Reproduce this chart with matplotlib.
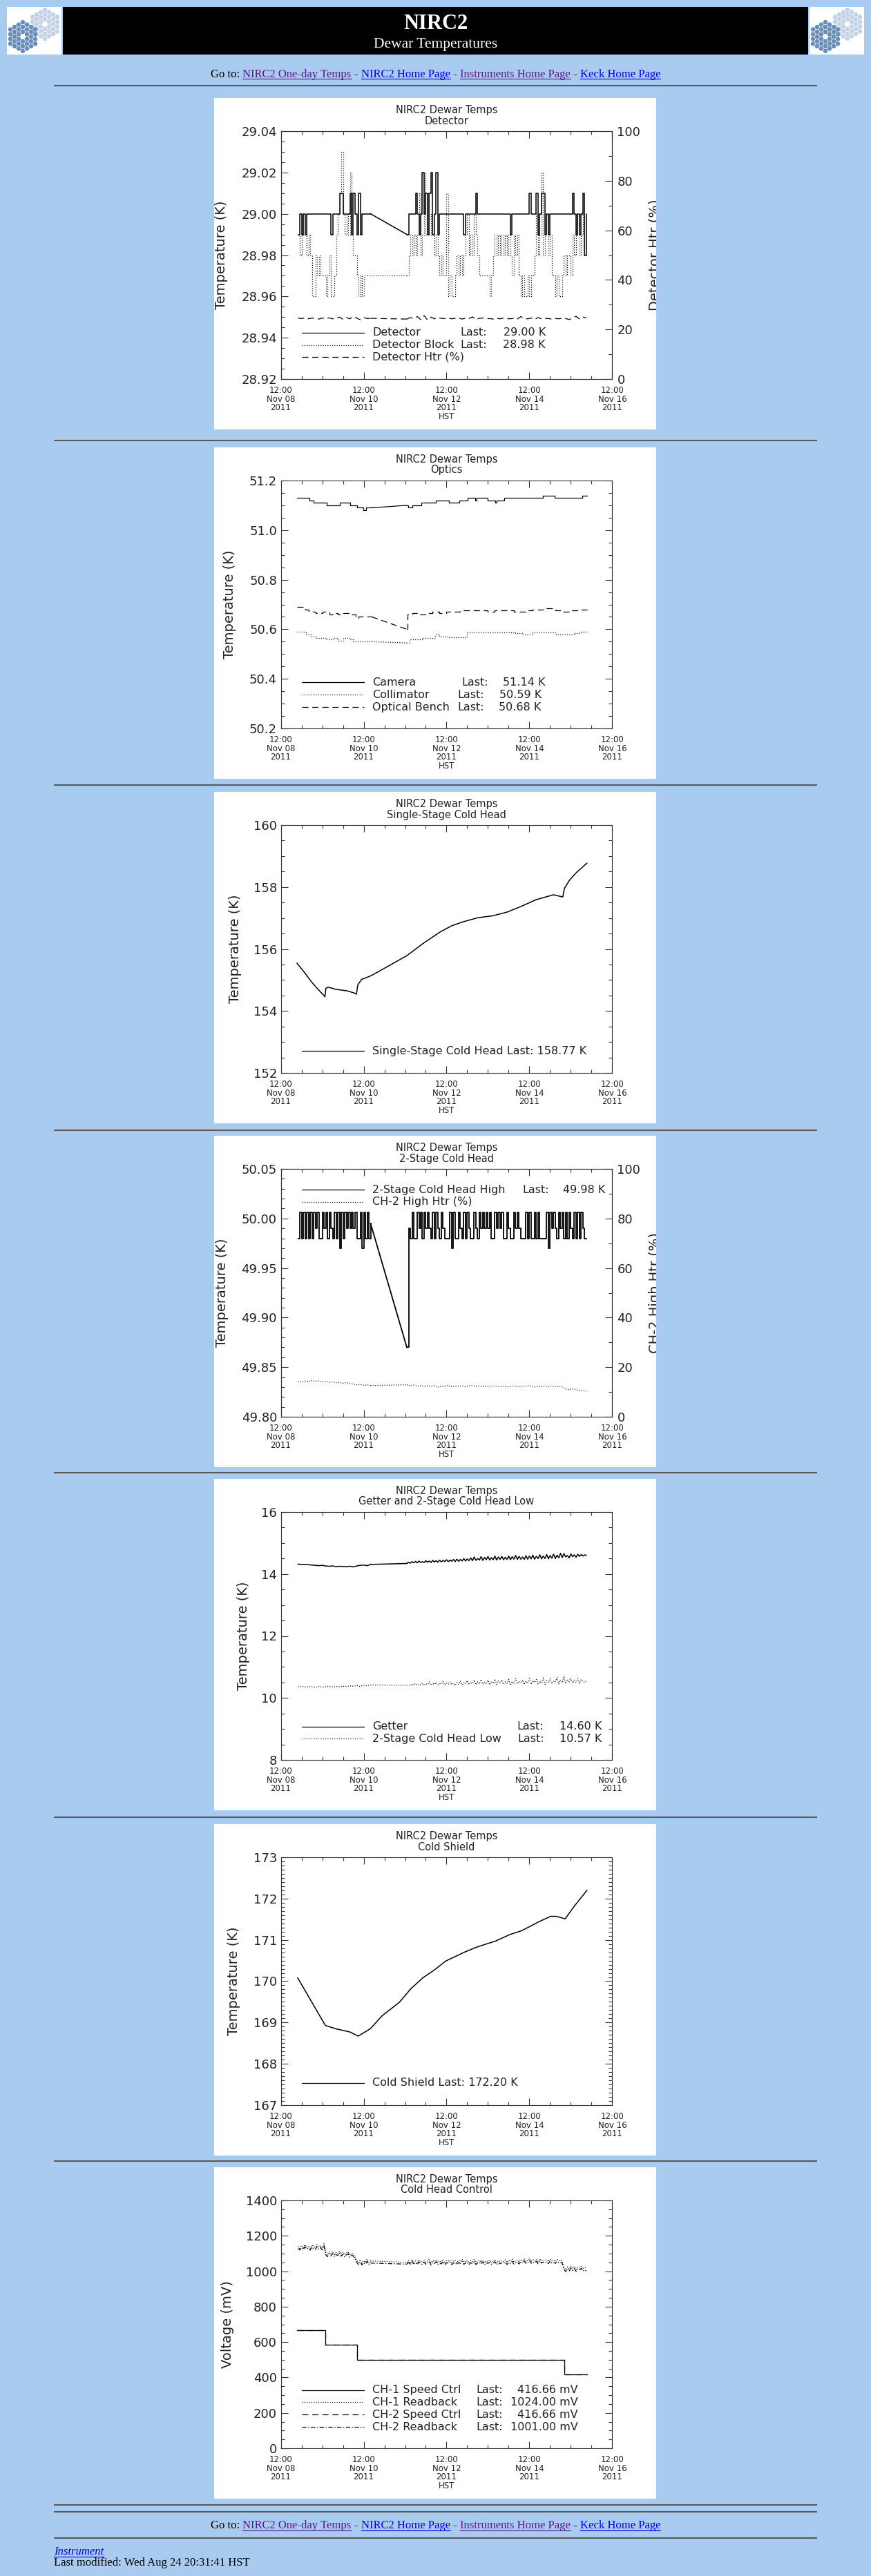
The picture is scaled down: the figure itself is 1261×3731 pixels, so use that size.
import numpy as np
import matplotlib
matplotlib.use("Agg")
import matplotlib.pyplot as plt
from matplotlib.patches import Rectangle, RegularPolygon
from matplotlib.ticker import MultipleLocator, FormatStrFormatter
from matplotlib.transforms import Bbox, TransformedBbox

plt.rcParams['font.family'] = ['DejaVu Sans']
plt.rcParams['lines.scale_dashes'] = False

# ------------------------------------------------------------------
# data  (time axis = hours after 12:00 HST, Nov 08 2011)
# ------------------------------------------------------------------
tick_hours = [0, 48, 96, 144, 192]
tick_labels = ["12:00\nNov 08\n2011", "12:00\nNov 10\n2011", "12:00\nNov 12\n2011",
               "12:00\nNov 14\n2011", "12:00\nNov 16\n2011"]

# logging has a hole between ~h52 and ~h73; hourly samples before / after it
pre_start, post_start = 10, 73

# Detector, hundredths of K above 29.00, hourly
det_pre = [-1, 0, -1, 0, -1, 0, 0, 0, 0, 0,
           0, 0, 0, 0, 0, 0, 0, 0, 0, -1,
           0, 0, 0, 0, 1, 1, 0, 0, 0, 0,
           1, -1, 1, 0, -1, 1, -1, 0, 0, 0,
           0, 0, 0]
det_post = [-1, 0, 0, 0, 0, 1, 0, -1, 0, 2,
            0, 1, -1, 1, 2, -1, 0, 2, -1, 0,
            0, 0, 0, 0, 0, 0, 0, 0, 0, 0,
            0, 0, 0, -1, 0, 0, 0, 0, 0, 0,
            1, 0, 0, 0, 0, 0, 0, 0, 0, 0,
            0, 0, 0, 0, 0, 0, 0, 0, 0, 0,
            -1, 0, 0, 0, 0, 0, 0, 0, 0, 0,
            0, 1, 0, 0, 0, 1, -1, 0, 1, 1,
            -1, 0, -1, 0, 0, 0, 0, 0, 0, 0,
            0, 0, 0, 0, 0, 0, 1, 0, -1, 0,
            -1, 0, 1, -2, 0]
# Detector Block, hundredths of K above 29.00, hourly
blk_pre = [-1, -2, 0, -1, -1, -2, -1, -2, -4, -4,
           -2, -3, -2, -3, -3, -3, -4, -3, -2, -4,
           -4, -3, -1, 0, 1, 3, 0, -1, 0, -1,
           2, -1, -2, -2, -3, -4, -3, -4, -3, -3,
           -3, -3, -3]
blk_post = [-3, -2, -1, -2, -1, -2, -1, 1, -2, -1,
            2, -1, 1, -1, 0, -1, -2, -1, -2, -3,
            -2, -3, -3, 1, -4, -3, -4, -4, -3, -2,
            -3, -2, -3, -2, -1, 0, -2, -1, -2, 0,
            -1, -2, -3, -3, -3, -3, -3, -3, -4, -3,
            -2, -1, -2, -1, -2, -1, -2, -1, -2, -1,
            -2, -3, -1, -2, -1, -3, -4, -3, -4, -4,
            -3, -4, -3, -3, -2, 0, -2, -1, 2, -2,
            -1, 0, -2, -1, -3, -3, -4, -3, -4, -4,
            -3, -2, -3, -2, -2, -3, -1, -2, 0, -1,
            -2, -1, 0, -2, -2]
# Detector heater (%), every 2 h
htr_pre = [24.6, 24.4, 24.7, 24.3, 24.6, 24.5, 24.2, 24.6, 24.4, 24.7,
           24.3, 24.5, 25.0, 24.1, 24.8, 24.3, 25.3, 24.6, 23.9, 24.8,
           24.4, 24.5]
htr_post = [24.2, 24.8, 24.4, 25.2, 24.0, 25.6, 23.8, 25.0, 24.3, 24.7,
            24.5, 24.4, 24.6, 24.3, 24.5, 24.7, 24.2, 24.6, 24.4, 25.1,
            24.0, 24.5, 24.6, 24.3, 24.4, 24.2, 24.5, 24.3, 24.6, 24.4,
            24.3, 24.5, 24.2, 25.2, 24.4, 24.3, 24.6, 24.1, 24.8, 24.3,
            24.5, 24.4, 24.2, 24.5, 24.3, 24.6, 24.4, 24.0, 24.7, 25.3,
            24.2, 25.0, 24.6]

# Optics (step changes)
cam_t_pre = [9.5, 16.5, 19.1, 26.6, 34.2, 40.1, 44.3, 47.7, 49.4, 52.7]
cam_v_pre = [51.13, 51.12, 51.11, 51.10, 51.11, 51.10, 51.09, 51.08, 51.09, 51.09]
cam_t_post = [72.9, 73.8, 76.3, 81.3, 89.8, 97.3, 103.2, 108.3, 112.5, 113.3,
              120.0, 124.3, 125.0, 129.3, 152.0, 158.8, 174.8, 177.3]
cam_v_post = [51.10, 51.09, 51.10, 51.11, 51.12, 51.11, 51.12, 51.13, 51.12, 51.13,
              51.12, 51.11, 51.12, 51.13, 51.14, 51.13, 51.14, 51.14]
col_t_pre = [9.5, 14.5, 17.5, 20.5, 26.0, 30.0, 33.0, 36.0, 40.0, 42.0, 52.7]
col_v_pre = [50.59, 50.58, 50.57, 50.565, 50.56, 50.565, 50.555, 50.565, 50.56, 50.55, 50.55]
col_t_post = [72.9, 74.5, 82.0, 89.5, 92.0, 97.0, 108.0, 136.0, 140.0, 146.0,
              159.6, 170.0, 174.0, 177.3]
col_v_post = [50.545, 50.56, 50.565, 50.58, 50.57, 50.568, 50.587, 50.585, 50.58, 50.587,
              50.58, 50.585, 50.59, 50.59]
ob_t_pre = [9.5, 14.0, 16.0, 20.0, 24.0, 28.0, 31.0, 33.0, 36.0, 40.0, 43.5, 45.0, 52.7]
ob_v_pre = [50.69, 50.68, 50.67, 50.665, 50.67, 50.66, 50.665, 50.66, 50.665, 50.66,
            50.645, 50.65, 50.65]
ob_t_post = [72.9, 73.5, 76.0, 80.0, 84.0, 88.0, 92.0, 96.0, 104.0, 120.0,
             124.0, 135.0, 142.0, 146.0, 154.0, 159.0, 163.0, 168.0, 172.0, 177.3]
ob_v_post = [50.60, 50.66, 50.665, 50.66, 50.665, 50.67, 50.665, 50.67, 50.675, 50.67,
             50.675, 50.67, 50.675, 50.68, 50.685, 50.675, 50.67, 50.675, 50.68, 50.68]

# Single-stage cold head
ss_t = [9.4, 13.2, 18.2, 22.4, 25.0, 25.6, 26.1, 27.5, 31.7, 38.4, 42.6, 43.8, 44.6,
        46.8, 50.2, 52.7, 72.9, 82.2, 92.3, 99.0, 105.7, 114.2, 122.6, 131.0, 139.4,
        147.8, 157.9, 163.3, 164.3, 167.2, 171.4, 177.3]
ss_v = [155.54, 155.28, 154.91, 154.65, 154.50, 154.46, 154.73, 154.77, 154.70, 154.65,
        154.58, 154.54, 154.84, 155.02, 155.09, 155.15, 155.78, 156.17, 156.55, 156.75,
        156.88, 157.01, 157.07, 157.19, 157.38, 157.59, 157.75, 157.68, 157.96, 158.22,
        158.48, 158.77]

# 2-stage cold head high, mK relative to 50.000 K, hourly
ch2h_pre = [-20, 6, -20, 6, -20, 6, -20, 6, -20, 6,
            -10, 6, -20, -20, 6, -10, 6, -20, 6, -10,
            -20, 6, -20, 6, -30, 6, -20, 6, -10, 6,
            -10, 6, -10, 6, -20, -20, 6, -30, 6, -20,
            6, -20, -5]
ch2h_post = [-130, -10, -20, 6, -20, -20, 6, -10, 6, -20,
             6, -10, 6, -10, -20, 6, -20, 6, -10, -20,
             6, -10, -20, -20, -20, 6, -30, 6, -20, -20,
             6, -10, -20, 6, -20, 6, -10, -20, -20, 6,
             -10, -20, 6, -10, 6, -10, 6, -10, 6, -20,
             -20, 6, -10, 6, -10, 6, -20, -20, 6, -10,
             -20, -20, 6, -10, 6, -10, -20, -20, -20, 6,
             -20, 6, -20, -20, 6, -20, 6, -20, -20, -20,
             -20, 6, -30, 6, -10, 6, -10, -20, 6, -10,
             6, -20, 6, -20, 6, -10, -20, 6, -20, 6,
             -20, 6, -10, -20, -20]
# CH-2 high heater (%), every 2 h
ch2htr_pre = [14.2, 14.0, 14.4, 14.1, 14.6, 14.3, 14.5, 14.0, 14.3, 13.9,
              14.1, 13.7, 13.9, 13.5, 13.8, 13.4, 13.2, 12.9, 13.1, 12.7,
              12.9, 12.6]
ch2htr_post = [12.9, 12.5, 12.8, 12.3, 12.6, 12.2, 12.5, 12.3, 12.6, 12.0,
               12.4, 12.2, 12.7, 12.1, 12.4, 12.3, 12.5, 12.2, 12.4, 12.6,
               12.3, 12.5, 12.2, 12.4, 12.1, 12.5, 12.3, 12.2, 12.4, 12.0,
               12.3, 12.5, 12.1, 12.4, 12.2, 12.6, 12.3, 12.0, 12.4, 12.2,
               12.5, 12.1, 12.4, 12.2, 12.3, 12.1, 11.2, 10.9, 11.3, 11.0,
               10.6, 10.5, 10.3]

# Getter and 2-stage low
get_pre = [14.32, 14.31, 14.31, 14.30, 14.29, 14.28, 14.27, 14.28, 14.26, 14.25,
           14.26, 14.24, 14.25, 14.24, 14.24, 14.25, 14.23, 14.26, 14.28, 14.29,
           14.27, 14.31]
get_post = [14.34, 14.38, 14.35, 14.40, 14.36, 14.41, 14.36, 14.42, 14.37, 14.40,
            14.37, 14.43, 14.38, 14.42, 14.37, 14.44, 14.39, 14.43, 14.38, 14.45,
            14.39, 14.44, 14.40, 14.46, 14.40, 14.45, 14.41, 14.47, 14.40, 14.48,
            14.41, 14.47, 14.42, 14.50, 14.42, 14.49, 14.43, 14.52, 14.43, 14.55,
            14.44, 14.50, 14.45, 14.56, 14.44, 14.54, 14.46, 14.57, 14.45, 14.53,
            14.46, 14.58, 14.45, 14.55, 14.47, 14.57, 14.46, 14.54, 14.47, 14.58,
            14.46, 14.56, 14.48, 14.60, 14.47, 14.57, 14.48, 14.55, 14.47, 14.59,
            14.48, 14.58, 14.49, 14.61, 14.48, 14.57, 14.50, 14.62, 14.49, 14.58,
            14.50, 14.63, 14.49, 14.60, 14.51, 14.64, 14.50, 14.61, 14.52, 14.67,
            14.53, 14.66, 14.55, 14.60, 14.52, 14.65, 14.56, 14.62, 14.54, 14.64,
            14.57, 14.63, 14.58, 14.62, 14.60]
low_pre = [10.36, 10.38, 10.35, 10.37, 10.36, 10.34, 10.37, 10.35, 10.36, 10.38,
           10.35, 10.37, 10.36, 10.38, 10.37, 10.39, 10.38, 10.40, 10.37, 10.41,
           10.39, 10.42]
low_post = [10.41, 10.43, 10.40, 10.45, 10.42, 10.47, 10.41, 10.44, 10.42, 10.48,
            10.40, 10.46, 10.43, 10.52, 10.41, 10.47, 10.44, 10.50, 10.42, 10.46,
            10.45, 10.53, 10.41, 10.48, 10.44, 10.51, 10.43, 10.47, 10.40, 10.50,
            10.44, 10.55, 10.42, 10.49, 10.45, 10.56, 10.43, 10.50, 10.46, 10.58,
            10.42, 10.52, 10.45, 10.60, 10.44, 10.51, 10.47, 10.57, 10.42, 10.53,
            10.46, 10.61, 10.43, 10.55, 10.48, 10.58, 10.44, 10.52, 10.47, 10.60,
            10.41, 10.54, 10.46, 10.62, 10.45, 10.53, 10.49, 10.59, 10.43, 10.55,
            10.47, 10.63, 10.44, 10.56, 10.50, 10.60, 10.45, 10.54, 10.48, 10.65,
            10.44, 10.57, 10.49, 10.62, 10.46, 10.55, 10.51, 10.66, 10.45, 10.58,
            10.48, 10.70, 10.46, 10.60, 10.52, 10.64, 10.47, 10.58, 10.50, 10.62,
            10.46, 10.60, 10.53, 10.50, 10.57]

# Cold shield
cs_t = [9.8, 25.8, 31.7, 40.1, 44.8, 51.9, 58.6, 68.7, 75.4, 82.2, 88.9, 95.6, 100.7,
        105.7, 112.5, 117.5, 124.3, 132.7, 139.4, 144.5, 149.5, 156.3, 159.6, 164.7,
        169.7, 177.3]
cs_v = [170.08, 168.93, 168.85, 168.77, 168.67, 168.85, 169.16, 169.49, 169.82, 170.08,
        170.27, 170.49, 170.59, 170.69, 170.81, 170.88, 170.97, 171.13, 171.22, 171.33,
        171.44, 171.57, 171.57, 171.51, 171.80, 172.20]

# Cold head control (mV)
spd_t = [9.5, 25.8, 44.3, 164.3, 177.3]
spd_v = [666.66, 583.33, 500.0, 416.66, 416.66]
rb1_pre = [1140, 1128, 1146, 1132, 1150, 1135, 1142, 1130, 1148, 1138,
           1133, 1150, 1136, 1145, 1131, 1158,
           1105, 1092, 1110, 1098, 1112, 1094, 1106, 1100, 1115, 1096,
           1108, 1092, 1104, 1110, 1090, 1102, 1097, 1080,
           1062, 1048, 1066, 1045, 1060, 1050, 1068, 1047, 1058]
rb1_post = [1050, 1062, 1045, 1068, 1052, 1060, 1047, 1065, 1055, 1049,
            1063, 1051, 1058, 1070, 1046, 1061, 1054, 1066, 1048, 1059,
            1052, 1067, 1045, 1060, 1056, 1064, 1049, 1058, 1062, 1047,
            1061, 1055, 1068, 1050, 1057, 1063, 1046, 1060, 1054, 1066,
            1049, 1058, 1062, 1051, 1065, 1047, 1059, 1055, 1063, 1050,
            1057, 1066, 1048, 1061, 1053, 1060, 1056, 1064, 1049, 1062,
            1055, 1068, 1051, 1059, 1063, 1052, 1066, 1057, 1070, 1054,
            1061, 1072, 1056, 1065, 1059, 1068, 1053, 1070, 1058, 1064,
            1060, 1066, 1055, 1069, 1058, 1062, 1056, 1067, 1059, 1063,
            1057, 1022, 1008, 1025, 1012, 1030, 1016, 1027, 1010, 1024,
            1018, 1029, 1012, 1020, 1024]
rb2_pre = [1128, 1120, 1134, 1122, 1138, 1125, 1130, 1119, 1136, 1127,
           1122, 1139, 1124, 1133, 1120, 1146,
           1094, 1082, 1098, 1086, 1100, 1083, 1095, 1088, 1103, 1085,
           1096, 1081, 1093, 1099, 1079, 1091, 1086, 1070,
           1050, 1038, 1054, 1035, 1049, 1040, 1056, 1036, 1046]
rb2_post = [1040, 1050, 1036, 1055, 1042, 1048, 1037, 1053, 1044, 1038,
            1051, 1040, 1047, 1057, 1035, 1049, 1043, 1054, 1038, 1047,
            1041, 1055, 1036, 1048, 1045, 1052, 1038, 1046, 1050, 1037,
            1049, 1044, 1056, 1039, 1046, 1051, 1036, 1048, 1043, 1054,
            1038, 1047, 1050, 1040, 1053, 1036, 1048, 1044, 1051, 1039,
            1046, 1054, 1037, 1049, 1042, 1048, 1045, 1052, 1038, 1050,
            1044, 1056, 1040, 1047, 1051, 1041, 1054, 1046, 1058, 1043,
            1049, 1060, 1045, 1053, 1047, 1056, 1042, 1058, 1046, 1052,
            1048, 1054, 1043, 1057, 1046, 1050, 1044, 1055, 1047, 1051,
            1045, 1010, 998, 1014, 1001, 1018, 1004, 1015, 999, 1012,
            1006, 1016, 1000, 1008, 1001]

# ------------------------------------------------------------------
# page layout (pixels, y measured down from the top of the page)
# ------------------------------------------------------------------
W, H = 1261, 3731
BG = '#aacbf0'
INK = '#222222'
DOT = (0, (0.8, 1.6))
DASH = (0, (6.5, 4.0))
DASHDOT = (0, (4.5, 1.8, 1.0, 1.8))
BOX_X = 309.5
panel_tops = [142, 648, 1147, 1645, 2142, 2642, 3139]
ylabel_x = [320.5, 332.5, 340, 321.5, 353, 339, 329.5]
rule_ys = [124, 638, 1137, 1637, 2133, 2632, 3130, 3628, 3638, 3676]

fig = plt.figure(figsize=(W / 100, H / 100), dpi=100, facecolor=BG)
page = fig.add_axes([0, 0, 1, 1])
page.set_xlim(0, W)
page.set_ylim(H, 0)
page.axis('off')
renderer = fig.canvas.get_renderer()


def sample_times(start, vals, step=1):
    return start + step * np.arange(len(vals))


def draw_logo(x0, y0):
    page.add_patch(Rectangle((x0, y0), 79, 69, facecolor='white', edgecolor='none'))
    clip = Rectangle((x0, y0), 79, 69, transform=page.transData)
    for cx, cy, col in [(x0 + 55, y0 + 25, '#c3d2e4'), (x0 + 23, y0 + 43, '#6a8eb6')]:
        for q in range(-3, 4):
            for r in range(max(-3, -q - 3), min(3, -q + 3) + 1):
                if q == 0 and r == 0:
                    continue
                hx = RegularPolygon((cx + 6.0 * q, cy + 6.93 * (r + q / 2)), 6, radius=3.6,
                                    orientation=np.pi / 6, facecolor=col, edgecolor='none')
                page.add_patch(hx)
                hx.set_clip_path(clip)


def link_line(y_base, runs):
    gap = 4.2
    items = []
    for txt, col, link in runs:
        t = page.text(0, y_base, txt, color=col, fontsize=12, family='Liberation Serif',
                      va='baseline', ha='left')
        items.append((t, t.get_window_extent(renderer).width, col, link))
    total = sum(w for _, w, _, _ in items) + gap * (len(items) - 1)
    x = 630.5 - total / 2
    for t, w, col, link in items:
        t.set_x(x)
        if link:
            page.plot([x, x + w], [y_base + 2, y_base + 2], color=col, lw=0.8)
        x += w + gap


goto_runs = [("Go to:", 'black', False), ("NIRC2 One-day Temps", '#551a8b', True),
             ("-", 'black', False), ("NIRC2 Home Page", '#0000ee', True),
             ("-", 'black', False), ("Instruments Home Page", '#551a8b', True),
             ("-", 'black', False), ("Keck Home Page", '#0000ee', True)]

# header
draw_logo(10, 10)
draw_logo(1172, 10)
page.add_patch(Rectangle((91, 10), 1079, 69, facecolor='black', edgecolor='none'))
page.text(630.5, 41.7, "NIRC2", color='white', family='Liberation Serif', fontweight='bold',
          fontsize=22, ha='center', va='baseline')
page.text(630.5, 69, "Dewar Temperatures", color='white', family='Liberation Serif',
          fontsize=15.5, ha='center', va='baseline')
link_line(112, goto_runs)

for y in rule_ys:
    page.plot([78, 1183], [y, y], color='#5a5a5a', lw=1.5, solid_capstyle='butt')

# footer
link_line(3662.5, goto_runs)
t = page.text(78, 3700, "Instrument", color='#0000ee', family='Liberation Serif',
              fontstyle='italic', fontsize=12, va='baseline')
w = t.get_window_extent(renderer).width
page.plot([78, 78 + w], [3702.5, 3702.5], color='#0000ee', lw=0.8)
page.text(78, 3716, "Last modified: Wed Aug 24 20:31:41 HST", color='black',
          family='Liberation Serif', fontsize=12, va='baseline')


def panel(i, subtitle, ylabel, rlabel=None):
    top = panel_tops[i]
    page.add_patch(Rectangle((BOX_X, top), 640, 480, facecolor='white', edgecolor='none'))
    page.text(646.5, top + 22, "NIRC2 Dewar Temps", fontsize=10.5, ha='center',
              va='baseline', color=INK)
    page.text(646.5, top + 37.5, subtitle, fontsize=10.5, ha='center', va='baseline', color=INK)
    page.text(646.5, top + 465, "HST", fontsize=8.5, ha='center', va='baseline', color=INK)
    page.text(ylabel_x[i], top + 227.5, ylabel, fontsize=14, rotation=90, ha='center',
              va='center', color=INK)
    if rlabel:
        # the right-hand label runs off the edge of the plot image and is cut there
        rt = page.text(948.5, top + 227.5, rlabel, fontsize=14, rotation=90, ha='center',
                       va='center', color=INK)
        rt.set_clip_box(TransformedBbox(
            Bbox([[BOX_X / W, 1 - (top + 480) / H], [(BOX_X + 640) / W, 1 - top / H]]),
            fig.transFigure))
        rt.set_clip_on(True)
    ax = fig.add_axes([(BOX_X + 97) / W, 1 - (top + 48 + 359) / H, 480 / W, 359 / H])
    return ax


def style_axes(ax, ylim, major, minor, fmt, right=True):
    ax.set_facecolor('white')
    ax.set_xlim(0, 192)
    ax.set_xticks(tick_hours)
    ax.set_xticklabels(tick_labels, fontsize=8.5, linespacing=0.95, color=INK)
    ax.xaxis.set_minor_locator(MultipleLocator(12))
    ax.set_ylim(*ylim)
    ax.yaxis.set_major_locator(MultipleLocator(major))
    ax.yaxis.set_minor_locator(MultipleLocator(minor))
    ax.yaxis.set_major_formatter(FormatStrFormatter(fmt))
    ax.tick_params(which='both', direction='in', top=True, right=right,
                   color='#333333', width=0.8)
    ax.tick_params(which='major', length=7)
    ax.tick_params(which='minor', length=3.5)
    ax.tick_params(axis='x', pad=7.5)
    ax.tick_params(axis='y', labelsize=13, pad=4, labelcolor=INK)
    for s in ax.spines.values():
        s.set_linewidth(0.8)
        s.set_color('#333333')


def right_axis(ax, ylim, major, minor):
    ax2 = ax.twinx()
    ax2.set_ylim(*ylim)
    ax2.yaxis.set_major_locator(MultipleLocator(major))
    ax2.yaxis.set_minor_locator(MultipleLocator(minor))
    ax2.tick_params(which='both', direction='in', color='#333333', width=0.8)
    ax2.tick_params(which='major', length=7, labelsize=13, pad=5, labelcolor=INK)
    ax2.tick_params(which='minor', length=3.5)
    for s in ax2.spines.values():
        s.set_linewidth(0.8)
        s.set_color('#333333')
    return ax2


def plot_gapped(ax, t_pre, v_pre, t_post, v_post, steps=False, **kw):
    ds = 'steps-post' if steps else 'default'
    ax.plot(t_pre, v_pre, drawstyle=ds, **kw)
    ax.plot([t_pre[-1], t_post[0]], [v_pre[-1], v_post[0]], **kw)
    ax.plot(t_post, v_post, drawstyle=ds, **kw)


def legend_row(ax, dy, ls, name, last_x=None, value=None, value_x=None):
    y = dy / 359
    ax.plot([30.5 / 480, 120.5 / 480], [y, y], transform=ax.transAxes, color='black',
            lw=0.9, linestyle=ls, clip_on=False)
    ax.text(132.5 / 480, y, name, transform=ax.transAxes, fontsize=11.5, va='center',
            ha='left', color=INK)
    if value is not None:
        ax.text(last_x / 480, y, "Last:", transform=ax.transAxes, fontsize=11.5,
                va='center', ha='left', color=INK)
        ax.text(value_x / 480, y, value, transform=ax.transAxes, fontsize=11.5,
                va='center', ha='right', color=INK)


line_kw = dict(color='black', lw=0.9)

# 1. Detector
ax = panel(0, "Detector", "Temperature (K)", "Detector Htr (%)")
style_axes(ax, (28.92, 29.04), 0.02, 0.005, '%.2f', right=False)
ax2 = right_axis(ax, (0, 100), 20, 10)
plot_gapped(ax, sample_times(pre_start, det_pre), 29.0 + np.array(det_pre) / 100,
            sample_times(post_start, det_post), 29.0 + np.array(det_post) / 100,
            steps=True, linestyle='-', color='black', lw=1.1)
plot_gapped(ax, sample_times(pre_start, blk_pre), 29.0 + np.array(blk_pre) / 100,
            sample_times(post_start, blk_post), 29.0 + np.array(blk_post) / 100,
            steps=True, linestyle=DOT, **line_kw)
plot_gapped(ax2, sample_times(pre_start, htr_pre, 2), htr_pre,
            sample_times(post_start, htr_post, 2), htr_post, linestyle=DASH, **line_kw)
legend_row(ax2, 67.3, '-', "Detector", 259.5, "29.00 K", 383.5)
legend_row(ax2, 49.5, DOT, "Detector Block", 259.5, "28.98 K", 383.5)
legend_row(ax2, 31.7, DASH, "Detector Htr (%)")

# 2. Optics
ax = panel(1, "Optics", "Temperature (K)")
style_axes(ax, (50.2, 51.2), 0.2, 0.05, '%.1f')
plot_gapped(ax, cam_t_pre, cam_v_pre, cam_t_post, cam_v_post, steps=True,
            linestyle='-', **line_kw)
plot_gapped(ax, col_t_pre, col_v_pre, col_t_post, col_v_post, steps=True,
            linestyle=DOT, **line_kw)
plot_gapped(ax, ob_t_pre, ob_v_pre, ob_t_post, ob_v_post, steps=True,
            linestyle=DASH, **line_kw)
legend_row(ax, 66.7, '-', "Camera", 262, "51.14 K", 383.5)
legend_row(ax, 48.7, DOT, "Collimator", 256, "50.59 K", 377.5)
legend_row(ax, 30.8, DASH, "Optical Bench", 255.5, "50.68 K", 377)

# 3. Single-stage cold head
ax = panel(2, "Single-Stage Cold Head", "Temperature (K)")
style_axes(ax, (152, 160), 2, 0.5, '%d')
ax.plot(ss_t, ss_v, linestyle='-', color='black', lw=1.1)
legend_row(ax, 31.7, '-', "Single-Stage Cold Head Last: 158.77 K")

# 4. 2-stage cold head
ax = panel(3, "2-Stage Cold Head", "Temperature (K)", "CH-2 High Htr (%)")
style_axes(ax, (49.80, 50.05), 0.05, 0.01, '%.2f', right=False)
ax2 = right_axis(ax, (0, 100), 20, 10)
plot_gapped(ax, sample_times(pre_start, ch2h_pre), 50.0 + np.array(ch2h_pre) / 1000,
            sample_times(post_start, ch2h_post), 50.0 + np.array(ch2h_post) / 1000,
            steps=True, linestyle='-', color='black', lw=1.3)
plot_gapped(ax2, sample_times(pre_start, ch2htr_pre, 2), ch2htr_pre,
            sample_times(post_start, ch2htr_post, 2), ch2htr_post, linestyle=DOT, **line_kw)
legend_row(ax2, 359 - 30.3, '-', "2-Stage Cold Head High", 350, "49.98 K", 470)
legend_row(ax2, 359 - 48, DOT, "CH-2 High Htr (%)")

# 5. Getter and 2-stage low
ax = panel(4, "Getter and 2-Stage Cold Head Low", "Temperature (K)")
style_axes(ax, (8, 16), 2, 0.5, '%d')
plot_gapped(ax, sample_times(pre_start, get_pre, 2), get_pre,
            sample_times(post_start, get_post), get_post, linestyle='-', color='black', lw=1.1)
plot_gapped(ax, sample_times(pre_start, low_pre, 2), low_pre,
            sample_times(post_start, low_post), low_post, linestyle=DOT, **line_kw)
legend_row(ax, 48.3, '-', "Getter", 341.5, "14.60 K", 464.5)
legend_row(ax, 30.7, DOT, "2-Stage Cold Head Low", 343, "10.57 K", 464.5)

# 6. Cold shield
ax = panel(5, "Cold Shield", "Temperature (K)")
style_axes(ax, (167, 173), 1, 0.1, '%d')
ax.plot(cs_t, cs_v, linestyle='-', color='black', lw=1.1)
legend_row(ax, 32.3, '-', "Cold Shield Last: 172.20 K")

# 7. Cold head control
ax = panel(6, "Cold Head Control", "Voltage (mV)")
style_axes(ax, (0, 1400), 200, 50, '%d')
ax.plot(spd_t, spd_v, drawstyle='steps-post', linestyle='-', **line_kw)
ax.plot(spd_t, spd_v, drawstyle='steps-post', linestyle=DASH, **line_kw)
plot_gapped(ax, sample_times(pre_start, rb1_pre), rb1_pre,
            sample_times(post_start, rb1_post), rb1_post, linestyle=DOT, **line_kw)
plot_gapped(ax, sample_times(pre_start, rb2_pre), rb2_pre,
            sample_times(post_start, rb2_post), rb2_post, linestyle=DASHDOT, **line_kw)
legend_row(ax, 84.3, '-', "CH-1 Speed Ctrl", 282.8, "416.66 mV", 430)
legend_row(ax, 66.7, DOT, "CH-1 Readback", 282.8, "1024.00 mV", 430)
legend_row(ax, 48.7, DASH, "CH-2 Speed Ctrl", 282.8, "416.66 mV", 430)
legend_row(ax, 31, DASHDOT, "CH-2 Readback", 282.8, "1001.00 mV", 430)

fig.savefig("out.png", dpi=100, facecolor=BG)
